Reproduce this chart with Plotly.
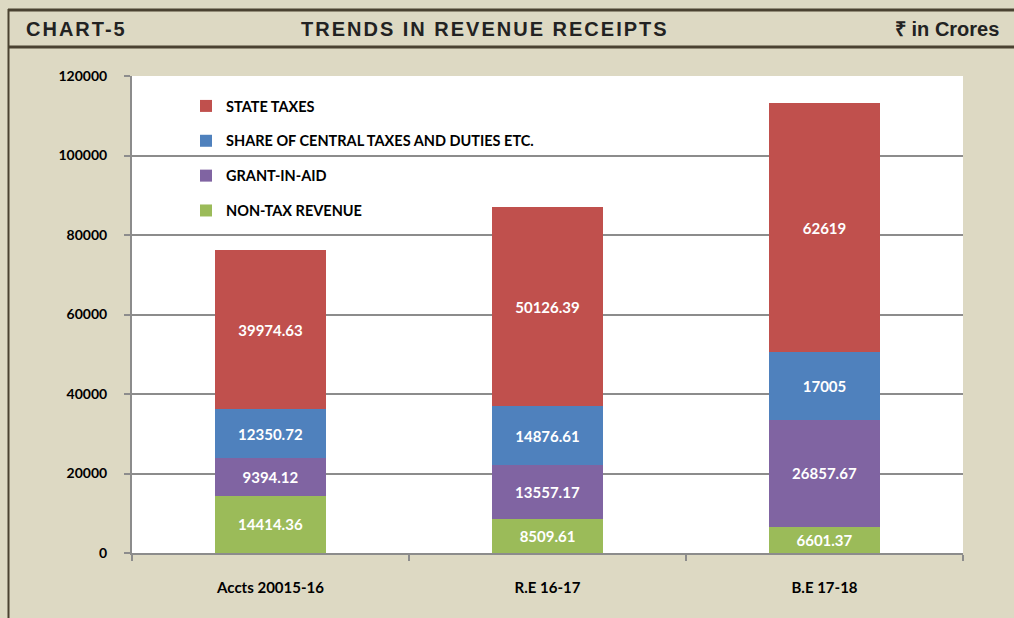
import plotly.graph_objects as go

categories = ["Accts 20015-16", "R.E 16-17", "B.E 17-18"]
non_tax = [14414.36, 8509.61, 6601.37]
grant_in_aid = [9394.12, 13557.17, 26857.67]
central_share = [12350.72, 14876.61, 17005]
state_taxes = [39974.63, 50126.39, 62619]
y_ticks = [0, 20000, 40000, 60000, 80000, 100000, 120000]

W, H = 1014, 618
L, R, T, B = 132, 963, 76, 553

def px(x):
    return (x - L) / (R - L)

def py(y):
    return (B - y) / (B - T)

BG = "#DDD9C3"
BORDER = "#4A4231"
LABEL_FONT = "Lato, Carlito, Calibri, Open Sans, sans-serif"

series = [
    ("NON-TAX REVENUE", non_tax, "#9BBB59", 4),
    ("GRANT-IN-AID", grant_in_aid, "#8064A2", 3),
    ("SHARE OF CENTRAL TAXES AND DUTIES ETC.", central_share, "#4F81BD", 2),
    ("STATE TAXES", state_taxes, "#C0504D", 1),
]

fig = go.Figure()
for name, vals, col, rank in series:
    fig.add_trace(go.Bar(
        x=categories, y=vals, name=name, legendgroup=name, legendrank=rank,
        marker=dict(color=col, line=dict(width=0)),
        text=[str(v) for v in vals],
        textposition="inside", insidetextanchor="middle", textangle=0,
        constraintext="none",
        textfont=dict(color="white", size=15, family=LABEL_FONT, weight="bold"),
    ))

shapes = [
    dict(type="line", xref="paper", yref="paper", x0=px(8), x1=px(1014), y0=py(10), y1=py(10),
         line=dict(color=BORDER, width=3)),
    dict(type="line", xref="paper", yref="paper", x0=px(8), x1=px(1014), y0=py(47), y1=py(47),
         line=dict(color=BORDER, width=3)),
    dict(type="line", xref="paper", yref="paper", x0=px(8.5), x1=px(8.5), y0=py(9), y1=py(620),
         line=dict(color=BORDER, width=2)),
]

hdr_font = dict(family="Liberation Sans, Arial, sans-serif", size=20, color="#222222", weight="bold")

def spaced(s, sp=2):
    return f'<span style="letter-spacing:{sp}px">{s}</span>'

annotations = [
    dict(text=spaced("CHART-5"), xref="paper", yref="paper", x=px(24), y=py(29), xanchor="left",
         yanchor="middle", showarrow=False, font=hdr_font),
    dict(text=spaced("TRENDS IN REVENUE RECEIPTS"), xref="paper", yref="paper", x=px(485), y=py(29),
         xanchor="center", yanchor="middle", showarrow=False, font=hdr_font),
    dict(text="₹ in Crores", xref="paper", yref="paper", x=px(1001), y=py(29), xanchor="right",
         yanchor="middle", showarrow=False, font=hdr_font),
]

fig.update_layout(
    width=W, height=H,
    margin=dict(l=L, r=W - R, t=T, b=H - B, pad=0),
    paper_bgcolor=BG, plot_bgcolor="white",
    barmode="stack", bargap=0.6,
    shapes=shapes, annotations=annotations,
    showlegend=True,
    legend=dict(
        traceorder="grouped", x=px(186), y=py(90), xanchor="left", yanchor="top",
        bgcolor="rgba(0,0,0,0)", tracegroupgap=13,
        font=dict(family=LABEL_FONT, size=14.5, color="black", weight="bold"),
        itemwidth=30,
    ),
    xaxis=dict(
        showline=True, linecolor="#8C8C8C", linewidth=2,
        ticks="outside", tickson="boundaries", ticklen=6, tickcolor="#8C8C8C", tickwidth=1.5,
        ticklabelstandoff=20,
        tickfont=dict(family=LABEL_FONT, size=15, color="black", weight="bold"),
        showgrid=False, fixedrange=True,
    ),
    yaxis=dict(
        range=[0, 120000], tickvals=y_ticks, ticktext=[str(v) for v in y_ticks],
        showline=True, linecolor="#8C8C8C", linewidth=2,
        ticks="outside", ticklen=6, tickcolor="#8C8C8C", tickwidth=1.5,
        ticklabelstandoff=14,
        showgrid=True, gridcolor="#8C8C8C", gridwidth=1.5,
        zeroline=False,
        tickfont=dict(family=LABEL_FONT, size=14, color="black", weight="bold"),
        fixedrange=True,
    ),
)

fig.write_html("out.html", config={"displayModeBar": False},
               post_script="document.body.style.margin='0';document.body.style.overflow='hidden';")
